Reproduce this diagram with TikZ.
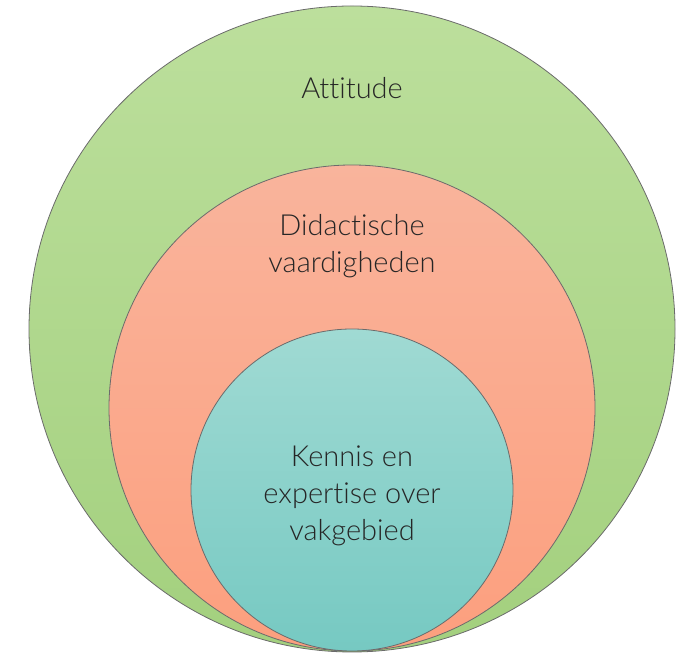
\documentclass[tikz,border=0pt]{standalone}
\usepackage{fontspec}
\setmainfont{Lato Light}[Ligatures={NoCommon}]
\definecolor{greentop}{HTML}{BCDF9C}
\definecolor{greenbot}{HTML}{A3D07E}
\definecolor{salmontop}{HTML}{F9B49C}
\definecolor{salmonbot}{HTML}{FC9F7E}
\definecolor{tealtop}{HTML}{A0DAD3}
\definecolor{tealbot}{HTML}{76C9C2}
\definecolor{rim}{HTML}{6B6B6B}
\tikzset{
  ring/.style={circle, draw=rim, line width=0.8pt, inner sep=0pt},
  lbl/.style={align=center, font=\fontsize{29}{37}\selectfont, text=black!85}
}
\begin{document}
\begin{tikzpicture}[x=1pt,y=1pt]
      \useasboundingbox (0,0) rectangle (688,655);
      \node[ring, minimum size=646pt, top color=greentop, bottom color=greenbot] (outer) at (352,326) {};
      \node[ring, minimum size=486pt, top color=salmontop, bottom color=salmonbot] (middle) at (352,247) {};
      \node[ring, minimum size=322pt, top color=tealtop, bottom color=tealbot] (inner) at (352,165) {};
      \node[lbl] (attitude) at (352,567) {Attitude};
      \node[lbl] (didactiek) at (352,409) {Didactische\\vaardigheden};
      \node[lbl] (kennis) at (352,159) {Kennis en\\expertise over\\vakgebied};
    \end{tikzpicture}
\end{document}
